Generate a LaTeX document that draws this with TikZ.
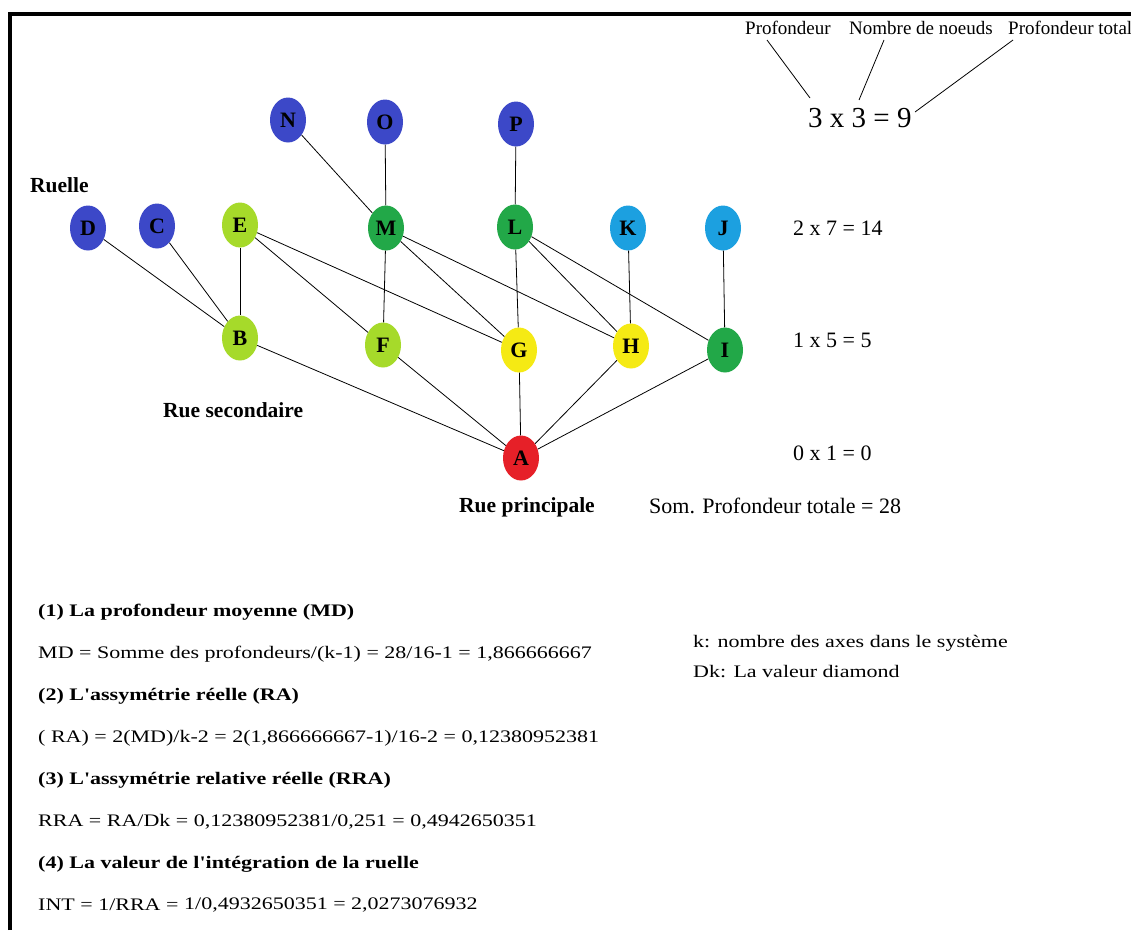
\documentclass[tikz,border=0pt]{standalone}
\usepackage{fontspec}
\setmainfont{Liberation Serif}
\newfontfamily\wsf{Liberation Serif}[FakeStretch=1.25]
\newfontfamily\psf{Liberation Serif}
\usetikzlibrary{shapes.geometric}
\definecolor{cblue}{RGB}{60,72,200}
\definecolor{clgreen}{RGB}{166,218,42}
\definecolor{cgreen}{RGB}{34,168,72}
\definecolor{clblue}{RGB}{28,160,224}
\definecolor{cyellow}{RGB}{245,234,20}
\definecolor{cred}{RGB}{230,32,40}
\tikzset{
  vtx/.style={ellipse, minimum width=36pt, minimum height=45pt, inner sep=0pt,
    font=\fontsize{22}{24}\selectfont\bfseries},
  edge/.style={draw=black, line width=0.8pt},
  lbl/.style={anchor=west, inner sep=0pt, font=\fontsize{21.5}{24}\selectfont\bfseries},
  txt/.style={anchor=west, inner sep=0pt, font=\wsf\fontsize{17.6}{20}\selectfont},
  hd/.style={anchor=west, inner sep=0pt, font=\wsf\fontsize{17.6}{20}\selectfont\bfseries},
  eqn/.style={anchor=west, inner sep=0pt, font=\fontsize{22}{24}\selectfont},
  toplbl/.style={anchor=west, inner sep=0pt, font=\fontsize{19}{21}\selectfont},
}
\begin{document}
\begin{tikzpicture}[x=1pt,y=-1pt]
\useasboundingbox (0,0) rectangle (1131,930);
\fill[white] (0,0) rectangle (1131,930);
\draw[line width=4pt] (10,930) -- (10,14) -- (1131,14);

% nodes
\node[vtx, fill=cblue] (N) at (288,120) {N};
\node[vtx, fill=cblue] (O) at (385,122) {O};
\node[vtx, fill=cblue] (P) at (516,124) {P};
\node[vtx, fill=cblue] (D) at (88,228) {D};
\node[vtx, fill=cblue] (C) at (157,226) {C};
\node[vtx, fill=clgreen] (E) at (240,225) {E};
\node[vtx, fill=cgreen] (M) at (386,228) {M};
\node[vtx, fill=cgreen] (L) at (515,227) {L};
\node[vtx, fill=clblue] (K) at (628,228) {K};
\node[vtx, fill=clblue] (J) at (723,228) {J};
\node[vtx, fill=clgreen] (B) at (240,338) {B};
\node[vtx, fill=clgreen] (F) at (383,345) {F};
\node[vtx, fill=cyellow] (G) at (519,350) {G};
\node[vtx, fill=cyellow] (H) at (631,346) {H};
\node[vtx, fill=cgreen] (I) at (725,350) {I};
\node[vtx, fill=cred] (A) at (521,458) {A};

% edges
\draw[edge] (D) -- (B);
\draw[edge] (C) -- (B);
\draw[edge] (E) -- (B);
\draw[edge] (E) -- (F);
\draw[edge] (E) -- (G);
\draw[edge] (N) -- (M);
\draw[edge] (O) -- (M);
\draw[edge] (M) -- (F);
\draw[edge] (M) -- (G);
\draw[edge] (M) -- (H);
\draw[edge] (P) -- (L);
\draw[edge] (L) -- (G);
\draw[edge] (L) -- (H);
\draw[edge] (L) -- (I);
\draw[edge] (K) -- (H);
\draw[edge] (J) -- (I);
\draw[edge] (B) -- (A);
\draw[edge] (F) -- (A);
\draw[edge] (G) -- (A);
\draw[edge] (H) -- (A);
\draw[edge] (I) -- (A);

% labels
\node[lbl] (ruelle) at (30,185) {Ruelle};
\node[lbl] (rsec) at (163,410) {Rue secondaire};
\node[lbl] (rpri) at (459,507) {Rue principale};

% right column
\node[toplbl] (tp1) at (745,28) {Profondeur};
\node[toplbl] (tp2) at (849,28) {Nombre de noeuds};
\node[toplbl] (tp3) at (1008,28) {Profondeur total};
\node[anchor=west, inner sep=0pt, font=\fontsize{29}{32}\selectfont] (e3) at (808,118) {3 x 3 = 9};
\coordinate (a1) at (767,40); \coordinate (b1) at (810,98);
\coordinate (a2) at (884,40); \coordinate (b2) at (859,100);
\coordinate (a3) at (1013,40); \coordinate (b3) at (915,112);
\draw[edge] (a1) -- (b1);
\draw[edge] (a2) -- (b2);
\draw[edge] (a3) -- (b3);
\node[eqn] (e2) at (793,228) {2 x 7 = 14};
\node[eqn] (e1) at (793,340) {1 x 5 = 5};
\node[eqn] (e0) at (793,453) {0 x 1 = 0};
\node[eqn] (som) at (649,506) {Som. Profondeur totale = 28};

% bottom text
\node[hd] (h1) at (38,612) {(1) La profondeur moyenne (MD)};
\node[txt] (t1) at (38,654) {MD = Somme des profondeurs/(k-1) = 28/16-1 = 1,866666667};
\node[hd] (h2) at (38,696) {(2) L'assymétrie réelle (RA)};
\node[txt] (t2) at (38,738) {( RA) = 2(MD)/k-2 = 2(1,866666667-1)/16-2 = 0,12380952381};
\node[hd] (h3) at (38,780) {(3) L'assymétrie relative réelle (RRA)};
\node[txt] (t3) at (38,822) {RRA = RA/Dk = 0,12380952381/0,251 = 0,4942650351};
\node[hd] (h4) at (38,864) {(4) La valeur de l'intégration de la ruelle};
\node[txt] (t4) at (38,905) {INT = 1/RRA =};
\node[txt] (t4b) at (184,905) {1/0,4932650351 = 2,0273076932};
\node[txt] (k1) at (693,643) {k: nombre des axes dans le système};
\node[txt] (k2) at (693,672) {Dk: La valeur diamond};
\end{tikzpicture}
\end{document}
